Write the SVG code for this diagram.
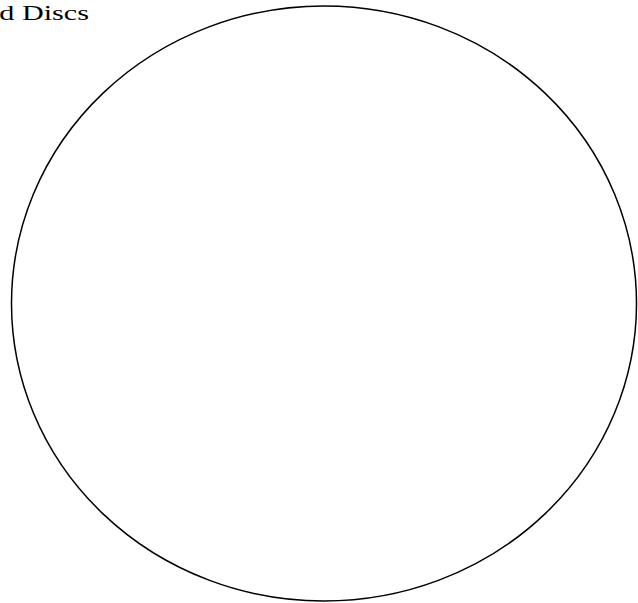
<svg xmlns="http://www.w3.org/2000/svg" width="638" height="603" viewBox="0 0 638 603">
<style>
.lbl{font-family:"Liberation Serif","Times New Roman",serif;font-size:22px;fill:#000}
.disc{fill:none;stroke:#000;stroke-width:1.5}
</style>
<rect width="638" height="603" fill="#fff"/>
<g id="title"><text class="lbl" transform="scale(1.37,1)" x="-0.5" y="20">d Discs</text></g>
<g id="disc"><ellipse class="disc" cx="324" cy="303.5" rx="312.5" ry="297.5"/></g>
</svg>
